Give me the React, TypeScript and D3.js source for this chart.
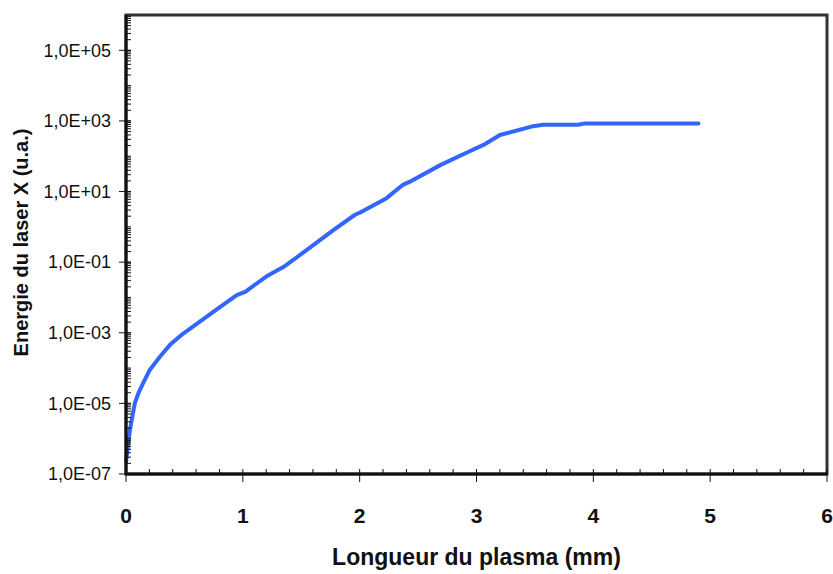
import React from "react";
import * as d3 from "d3";

const lengthMm = [0, 0.034, 0.075, 0.11, 0.148, 0.2, 0.29, 0.38, 0.49, 0.75, 0.948, 1.02, 1.2, 1.35, 1.49, 1.775, 1.96, 2.02, 2.23, 2.37, 2.43, 2.69, 2.9, 3.06, 3.2, 3.47, 3.57, 3.87, 3.93, 4.9];
const energy = [2.2e-7, 1.8e-6, 1.0e-5, 2.1e-5, 3.8e-5, 8.5e-5, 2.1e-4, 4.7e-4, 9.5e-4, 4.0e-3, 1.17e-2, 1.45e-2, 3.9e-2, 7.4e-2, 0.16, 0.81, 2.2, 2.7, 6.5, 15.5, 19, 56, 120, 209, 398, 692, 776, 776, 851, 851];

const xTicks = [0, 1, 2, 3, 4, 5, 6];
const yTickLabels = ["1,0E-07", "1,0E-05", "1,0E-03", "1,0E-01", "1,0E+01", "1,0E+03", "1,0E+05"];
const yTickValues = [1e-7, 1e-5, 1e-3, 1e-1, 1e1, 1e3, 1e5];

const xTitle = "Longueur du plasma (mm)";
const yTitle = "Energie du laser X (u.a.)";

const W = 833, H = 574;
const L = 126, R = 827, T = 15, B = 474;
const FONT = "'Liberation Sans', Arial, Helvetica, sans-serif";

export default function App() {
  const x = d3.scaleLinear().domain([0, 6]).range([L, R]);
  const y = d3.scaleLog().domain([1e-7, 1e6]).range([B, T]);

  const line = d3
    .line<number>()
    .x((_, i) => x(lengthMm[i]))
    .y((_, i) => y(energy[i]));

  const minorY: number[] = [];
  for (let d = -7; d < 6; d++) {
    for (let k = 1; k <= 9; k++) {
      const v = k * Math.pow(10, d);
      if (v > 1e6) continue;
      minorY.push(v);
    }
  }
  const minorX: number[] = d3.range(0, 30).map((i) => i * 0.2).filter((v) => Math.abs(v - Math.round(v)) > 1e-6);

  return (
    <svg width={W} height={H} style={{ position: "absolute", left: 0, top: 0, background: "#fff" }}>
      <rect x={0} y={0} width={W} height={H} fill="#fff" />
      {/* curve */}
      <path d={line(energy) || ""} fill="none" stroke="#3366FF" strokeWidth={4} strokeLinejoin="round" strokeLinecap="round" />
      {/* frame */}
      <rect x={L} y={T} width={R - L} height={B - T} fill="none" stroke="#333" strokeWidth={3} />
      <line x1={L} x2={L} y1={T} y2={B + 1} stroke="#111" strokeWidth={3} />
      <line x1={L - 1} x2={R} y1={B} y2={B} stroke="#111" strokeWidth={3} />
      {/* y minor ticks */}
      {minorY.map((v, i) => (
        <line key={"ym" + i} x1={L} x2={L + 5} y1={y(v)} y2={y(v)} stroke="#111" strokeWidth={1} />
      ))}
      {/* y major ticks + labels */}
      {yTickValues.map((v, i) => (
        <g key={"yt" + i}>
          <line x1={L - 7} x2={L + 5} y1={y(v)} y2={y(v)} stroke="#111" strokeWidth={1} />
          <text x={111} y={y(v)} dy="0.35em" textAnchor="end" fontFamily={FONT} fontSize={18} fill="#111">
            {yTickLabels[i]}
          </text>
        </g>
      ))}
      {/* x minor ticks */}
      {minorX.map((v, i) => (
        <line key={"xm" + i} x1={x(v)} x2={x(v)} y1={B} y2={B - 5} stroke="#111" strokeWidth={1} />
      ))}
      {/* x major ticks + labels */}
      {xTicks.map((v) => (
        <g key={"xt" + v}>
          <line x1={x(v)} x2={x(v)} y1={B - 5} y2={B + 8} stroke="#111" strokeWidth={1} />
          <text x={x(v)} y={523} textAnchor="middle" fontFamily={FONT} fontSize={21} fontWeight="bold" fill="#111">
            {v}
          </text>
        </g>
      ))}
      {/* titles */}
      <text x={(L + R) / 2} y={565} textAnchor="middle" fontFamily={FONT} fontSize={23} fontWeight="bold" fill="#111">
        {xTitle}
      </text>
      <text
        transform={`translate(28,${(T + B) / 2 - 2}) rotate(-90)`}
        textAnchor="middle"
        fontFamily={FONT}
        fontSize={20}
        fontWeight="bold"
        fill="#111"
      >
        {yTitle}
      </text>
    </svg>
  );
}
